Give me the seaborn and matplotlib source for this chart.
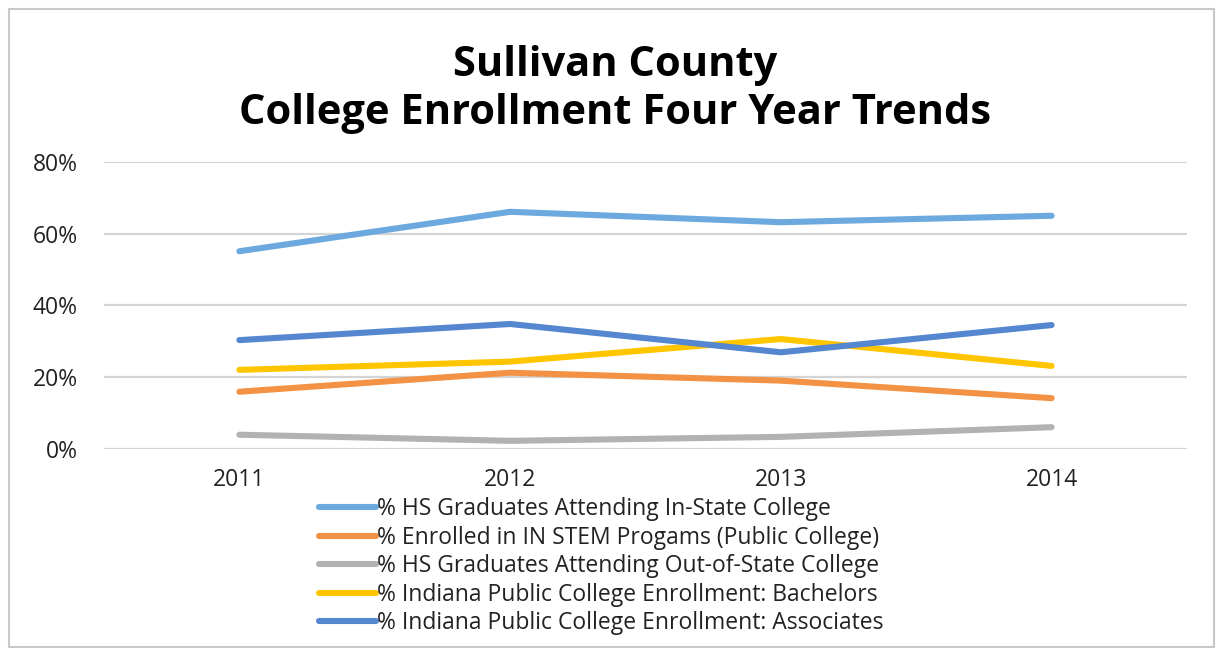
import pandas as pd
import seaborn as sns
import matplotlib.pyplot as plt
from matplotlib.patches import Rectangle

years = ['2011', '2012', '2013', '2014']
in_state = [55.1, 66.1, 63.2, 65.0]
stem = [15.9, 21.2, 19.0, 14.1]
out_of_state = [3.9, 2.2, 3.3, 6.0]
bachelors = [22.0, 24.3, 30.6, 23.1]
associates = [30.3, 34.8, 26.9, 34.5]

series_names = [
    '% HS Graduates Attending In-State College',
    '% Enrolled in IN STEM Progams (Public College)',
    '% HS Graduates Attending Out-of-State College',
    '% Indiana Public College Enrollment: Bachelors',
    '% Indiana Public College Enrollment: Associates',
]
colors = ['#6CA9DE', '#F39244', '#B2B2B2', '#FFC600', '#5587D0']

rows = []
for name, vals in zip(series_names, [in_state, stem, out_of_state, bachelors, associates]):
    for y, v in zip(years, vals):
        rows.append({'year': y, 'value': v, 'series': name})
df = pd.DataFrame(rows)

sns.set_style('white')
plt.rcParams['font.family'] = ['Open Sans', 'DejaVu Sans']

fig = plt.figure(figsize=(12.2, 6.48), dpi=100)
ax = fig.add_axes([104 / 1220, 1 - 448.7 / 648, (1187 - 104) / 1220, (448.7 - 162) / 648])

sns.lineplot(data=df, x='year', y='value', hue='series', palette=colors,
             linewidth=4.4, ax=ax, sort=False)
for line in ax.get_lines():
    line.set_solid_capstyle('round')

ax.set_xlim(-0.5, 3.5)
ax.set_ylim(0, 80)
ax.set_yticks([0, 20, 40, 60, 80])
ax.set_yticklabels([f'{t}%' for t in [0, 20, 40, 60, 80]])
ax.grid(True, axis='y', color='#D4D4D4', linewidth=1.6)
ax.grid(False, axis='x')
ax.set_axisbelow(True)
for s in ax.spines.values():
    s.set_visible(False)
ax.tick_params(axis='both', length=0, labelsize=16.5, colors='#222222')
ax.tick_params(axis='y', pad=19)
ax.tick_params(axis='x', pad=14)
ax.set_xlabel('')
ax.set_ylabel('')

handles, labels = ax.get_legend_handles_labels()
ax.legend().remove()
leg = fig.legend(handles, labels, loc='upper left', bbox_to_anchor=(319 / 1220, 1 - 497 / 648),
                 frameon=False, fontsize=16.5, handlelength=2.5, handletextpad=0.05,
                 labelspacing=0.2, borderpad=0, borderaxespad=0)
for h in leg.legend_handles:
    h.set_linewidth(4.4)
    h.set_solid_capstyle('round')
for t in leg.get_texts():
    t.set_color('#222222')

fig.text(0.504, 1 - 65 / 648, 'Sullivan County', ha='center', va='center',
         fontsize=30, fontweight='bold', color='black')
fig.text(0.504, 1 - 113 / 648, 'College Enrollment Four Year Trends', ha='center', va='center',
         fontsize=30, fontweight='bold', color='black')

fig.patches.append(Rectangle((9 / 1220, 0.002), (1214 - 9) / 1220, (647 - 8) / 648 - 0.002,
                             transform=fig.transFigure, fill=False, edgecolor='#C8C8C8',
                             linewidth=1.5))

fig.savefig('out.png', dpi=100)
